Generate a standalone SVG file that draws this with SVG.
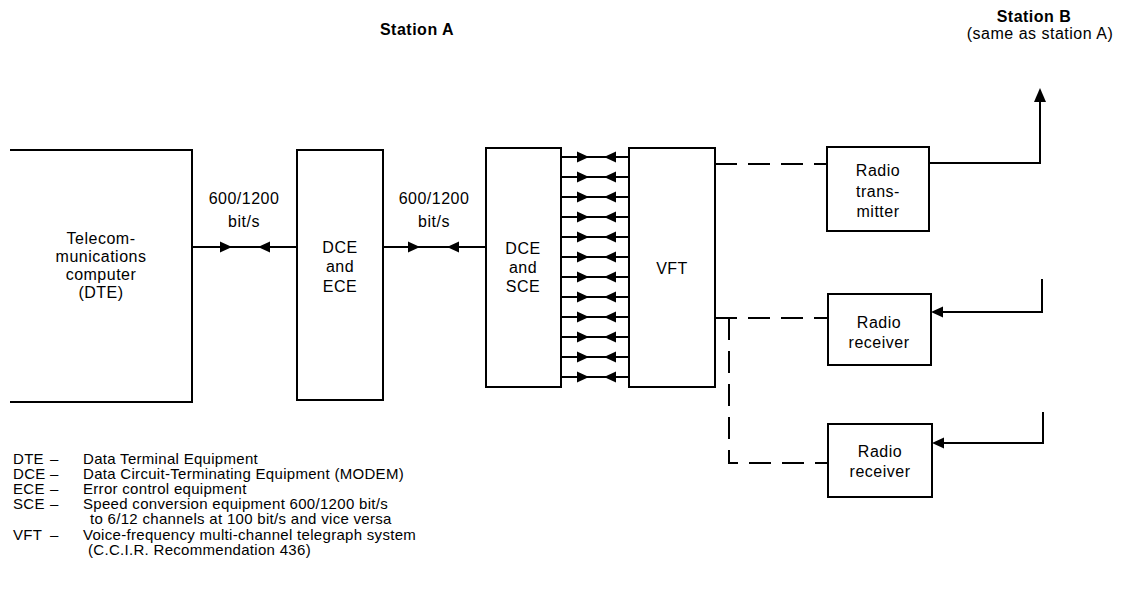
<svg xmlns="http://www.w3.org/2000/svg" xmlns:xlink="http://www.w3.org/1999/xlink" width="1121" height="597" viewBox="0 0 1121 597">
<style>
.bx{fill:none;stroke:#000;stroke-width:2}
.ln{fill:none;stroke:#000;stroke-width:2}
.ds{fill:none;stroke:#000;stroke-width:2;stroke-dasharray:22 11}
text{font-family:"Liberation Sans",Arial,sans-serif;fill:#000}
.t{font-size:16px;letter-spacing:0.5px;text-anchor:middle}
.h{font-size:16px;font-weight:bold;letter-spacing:0.5px;text-anchor:middle}
.lg{font-size:15px;letter-spacing:0.3px}
</style>
<defs>
<path id="ar" d="M0,0 L-12,-5.5 L-12,5.5 Z" fill="#000"/>
<path id="al" d="M0,0 L12,-5.5 L12,5.5 Z" fill="#000"/>
</defs>
<rect width="1121" height="597" fill="#fff"/>
<g id="titles">
<text class="h" x="417" y="35">Station A</text>
<text class="h" x="1034" y="22">Station B</text>
<text class="t" x="1040" y="39">(same as station A)</text>
</g>
<g id="dte">
<path class="bx" d="M10,150 H192 V402 H10"/>
<text class="t" x="101" y="244">Telecom-</text>
<text class="t" x="101" y="262">munications</text>
<text class="t" x="101" y="280">computer</text>
<text class="t" x="101" y="298">(DTE)</text>
</g>
<g id="dce-ece">
<rect class="bx" x="297" y="150" width="86" height="250"/>
<text class="t" x="340" y="253">DCE</text>
<text class="t" x="340" y="272">and</text>
<text class="t" x="340" y="292">ECE</text>
</g>
<g id="dce-sce">
<rect class="bx" x="486" y="148" width="75" height="239"/>
<text class="t" x="523" y="254">DCE</text>
<text class="t" x="523" y="273">and</text>
<text class="t" x="523" y="292">SCE</text>
</g>
<g id="vft">
<rect class="bx" x="629" y="148" width="86" height="239"/>
<text class="t" x="672" y="274">VFT</text>
</g>
<g id="tx">
<rect class="bx" x="827" y="147" width="102" height="84"/>
<text class="t" x="878" y="176">Radio</text>
<text class="t" x="878" y="197">trans-</text>
<text class="t" x="878" y="217">mitter</text>
</g>
<g id="rx1">
<rect class="bx" x="828" y="294" width="103" height="71"/>
<text class="t" x="879" y="328">Radio</text>
<text class="t" x="879" y="348">receiver</text>
</g>
<g id="rx2">
<rect class="bx" x="828" y="424" width="104" height="73"/>
<text class="t" x="880" y="457">Radio</text>
<text class="t" x="880" y="477">receiver</text>
</g>
<g id="connectors">
<path class="ln" d="M192,247 H297"/>
<use xlink:href="#ar" x="232" y="247"/>
<use xlink:href="#al" x="258" y="247"/>
<text class="t" x="244" y="204">600/1200</text>
<text class="t" x="244" y="227">bit/s</text>
<path class="ln" d="M383,247 H486"/>
<use xlink:href="#ar" x="420" y="247"/>
<use xlink:href="#al" x="447" y="247"/>
<text class="t" x="434" y="204">600/1200</text>
<text class="t" x="434" y="227">bit/s</text>
<g id="bundle">
<path class="ln" d="M561,157 H629 M561,177 H629 M561,197 H629 M561,217 H629 M561,237 H629 M561,257 H629 M561,277 H629 M561,297 H629 M561,317 H629 M561,337 H629 M561,357 H629 M561,377 H629"/>
<use xlink:href="#ar" x="589" y="157"/><use xlink:href="#al" x="604" y="157"/>
<use xlink:href="#ar" x="589" y="177"/><use xlink:href="#al" x="604" y="177"/>
<use xlink:href="#ar" x="589" y="197"/><use xlink:href="#al" x="604" y="197"/>
<use xlink:href="#ar" x="589" y="217"/><use xlink:href="#al" x="604" y="217"/>
<use xlink:href="#ar" x="589" y="237"/><use xlink:href="#al" x="604" y="237"/>
<use xlink:href="#ar" x="589" y="257"/><use xlink:href="#al" x="604" y="257"/>
<use xlink:href="#ar" x="589" y="277"/><use xlink:href="#al" x="604" y="277"/>
<use xlink:href="#ar" x="589" y="297"/><use xlink:href="#al" x="604" y="297"/>
<use xlink:href="#ar" x="589" y="317"/><use xlink:href="#al" x="604" y="317"/>
<use xlink:href="#ar" x="589" y="337"/><use xlink:href="#al" x="604" y="337"/>
<use xlink:href="#ar" x="589" y="357"/><use xlink:href="#al" x="604" y="357"/>
<use xlink:href="#ar" x="589" y="377"/><use xlink:href="#al" x="604" y="377"/>
</g>
<path class="ds" d="M715,164 H827"/>
<path class="ln" d="M929,163 H1040 V100"/>
<path d="M1040,88 L1034,102 L1046,102 Z" fill="#000"/>
<path class="ds" d="M715,318 H828"/>
<path class="ds" d="M729,318 V463 H828"/>
<path class="ln" d="M1042,279 V312 H943"/>
<use xlink:href="#al" x="931" y="312"/>
<path class="ln" d="M1043,412 V443 H944"/>
<use xlink:href="#al" x="932" y="443"/>
</g>
<g id="legend" class="lg">
<text x="13" y="464">DTE</text><text x="50" y="464">–</text><text x="83" y="464">Data Terminal Equipment</text>
<text x="13" y="479">DCE</text><text x="50" y="479">–</text><text x="83" y="479">Data Circuit-Terminating Equipment (MODEM)</text>
<text x="13" y="494">ECE</text><text x="50" y="494">–</text><text x="83" y="494">Error control equipment</text>
<text x="13" y="509">SCE</text><text x="50" y="509">–</text><text x="83" y="509">Speed conversion equipment 600/1200 bit/s</text>
<text x="90" y="524">to 6/12 channels at 100 bit/s and vice versa</text>
<text x="13" y="540">VFT</text><text x="50" y="540">–</text><text x="83" y="540">Voice-frequency multi-channel telegraph system</text>
<text x="88" y="555">(C.C.I.R. Recommendation 436)</text>
</g>
</svg>
